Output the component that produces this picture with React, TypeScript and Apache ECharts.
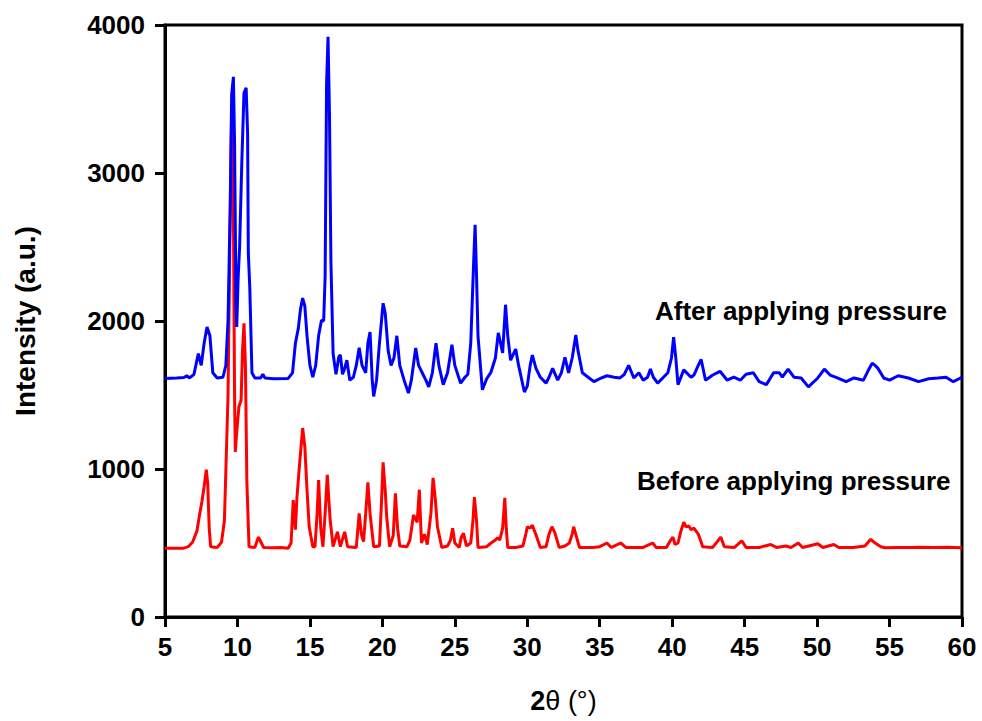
import React, { useEffect, useRef } from "react";
import * as echarts from "echarts";

const xTicks = { min: 5, max: 60, interval: 5 };
const yTicks = { min: 0, max: 4000, interval: 1000 };

const seriesNames = ["Before applying pressure", "After applying pressure"];

const afterPressure: [number, number][] = [
  [5.0, 1612], [5.8, 1615], [6.3, 1618], [6.5, 1630], [6.7, 1615], [7.0, 1640], [7.3, 1780], [7.5, 1700],
  [7.7, 1850], [7.9, 1960], [8.1, 1900], [8.3, 1650], [8.6, 1615], [9.0, 1620], [9.2, 1700], [9.35, 2005],
  [9.5, 2770], [9.6, 3530], [9.72, 3650], [9.8, 3200], [9.9, 2100], [9.95, 1960], [10.05, 2300], [10.15, 2500],
  [10.3, 3070], [10.45, 3540], [10.6, 3575], [10.7, 3270], [10.75, 2460], [10.85, 2230], [11.0, 1650], [11.2, 1615],
  [11.6, 1615], [11.75, 1640], [11.9, 1615], [12.5, 1610], [13.5, 1612], [13.8, 1650], [14.0, 1850], [14.2, 1950],
  [14.35, 2080], [14.5, 2155], [14.65, 2100], [14.8, 1900], [15.0, 1700], [15.2, 1620], [15.4, 1700], [15.6, 1900],
  [15.8, 2005], [15.95, 2000], [16.05, 2300], [16.15, 3600], [16.25, 3920], [16.35, 3400], [16.45, 2400], [16.6, 1780],
  [16.8, 1640], [17.0, 1760], [17.1, 1770], [17.25, 1640], [17.4, 1680], [17.55, 1735], [17.75, 1600], [18.0, 1620],
  [18.2, 1700], [18.4, 1820], [18.6, 1700], [18.85, 1650], [19.0, 1850], [19.15, 1925], [19.3, 1600], [19.4, 1490],
  [19.6, 1600], [19.8, 1850], [20.05, 2120], [20.2, 2050], [20.4, 1800], [20.6, 1700], [20.8, 1750], [21.0, 1900],
  [21.2, 1700], [21.5, 1600], [21.8, 1513], [22.0, 1600], [22.3, 1818], [22.5, 1700], [22.8, 1640], [23.0, 1600],
  [23.2, 1555], [23.45, 1650], [23.7, 1850], [23.9, 1700], [24.2, 1570], [24.5, 1650], [24.8, 1840], [25.0, 1700],
  [25.4, 1580], [25.7, 1620], [25.9, 1640], [26.1, 1850], [26.3, 2400], [26.4, 2650], [26.5, 2300], [26.6, 1900],
  [26.9, 1535], [27.2, 1610], [27.5, 1655], [27.8, 1750], [28.0, 1920], [28.3, 1785], [28.5, 2110], [28.65, 1900],
  [28.85, 1735], [29.2, 1810], [29.4, 1700], [29.8, 1520], [30.0, 1560], [30.2, 1700], [30.35, 1770], [30.6, 1680],
  [30.9, 1620], [31.3, 1580], [31.5, 1620], [31.75, 1680], [32.1, 1600], [32.35, 1650], [32.6, 1755], [32.85, 1650],
  [33.1, 1750], [33.35, 1905], [33.5, 1800], [33.8, 1650], [34.2, 1620], [34.6, 1590], [35.0, 1610], [35.5, 1630],
  [36.0, 1620], [36.4, 1615], [36.7, 1640], [37.0, 1700], [37.35, 1615], [37.7, 1650], [38.0, 1600], [38.3, 1620],
  [38.5, 1675], [38.7, 1620], [39.0, 1580], [39.4, 1620], [39.7, 1650], [39.95, 1750], [40.1, 1890], [40.25, 1750],
  [40.4, 1570], [40.8, 1670], [41.3, 1620], [41.5, 1635], [41.8, 1700], [42.0, 1740], [42.3, 1600], [42.8, 1635],
  [43.3, 1660], [43.8, 1600], [44.25, 1620], [44.7, 1600], [45.1, 1640], [45.6, 1650], [46.0, 1590], [46.5, 1570],
  [47.0, 1650], [47.4, 1650], [47.6, 1620], [48.0, 1675], [48.4, 1620], [48.9, 1615], [49.4, 1555], [50.05, 1615],
  [50.5, 1675], [50.9, 1635], [51.4, 1615], [52.0, 1590], [52.55, 1615], [53.2, 1600], [53.5, 1660], [53.8, 1715],
  [54.0, 1700], [54.2, 1680], [54.6, 1615], [55.0, 1600], [55.6, 1630], [56.3, 1615], [57.0, 1590], [57.7, 1610],
  [58.35, 1615], [58.9, 1620], [59.4, 1590], [60.0, 1620],
];

const beforePressure: [number, number][] = [
  [5, 465], [6.3, 465], [6.6, 475], [6.9, 505], [7.2, 580], [7.4, 700], [7.55, 780], [7.7, 880],
  [7.85, 995], [7.95, 900], [8.05, 600], [8.15, 475], [8.6, 470], [8.9, 505], [9.1, 650], [9.35, 1500],
  [9.5, 2700], [9.6, 3450], [9.7, 3050], [9.8, 1500], [9.85, 1115], [9.95, 1250], [10.1, 1420], [10.25, 1465],
  [10.35, 1800], [10.45, 1985], [10.55, 1700], [10.65, 910], [10.8, 475], [11.2, 470], [11.45, 540], [11.65, 500],
  [11.8, 470], [12.5, 468], [13.0, 470], [13.5, 465], [13.7, 500], [13.85, 790], [14.0, 590], [14.1, 800],
  [14.3, 1050], [14.5, 1277], [14.65, 1150], [14.8, 858], [14.95, 610], [15.2, 475], [15.35, 475], [15.5, 700],
  [15.6, 925], [15.75, 600], [15.9, 475], [16.05, 700], [16.2, 960], [16.3, 800], [16.4, 655], [16.6, 475],
  [16.9, 575], [17.1, 475], [17.4, 575], [17.6, 475], [18.2, 470], [18.4, 700], [18.55, 560], [18.7, 510],
  [18.85, 700], [19.0, 910], [19.15, 700], [19.4, 475], [19.8, 480], [19.95, 800], [20.05, 1045], [20.2, 850],
  [20.3, 675], [20.5, 475], [20.75, 550], [20.9, 835], [21.05, 600], [21.2, 480], [21.7, 475], [21.9, 520],
  [22.15, 690], [22.4, 640], [22.55, 860], [22.7, 500], [22.9, 560], [23.1, 490], [23.35, 700], [23.5, 940],
  [23.65, 800], [23.8, 610], [24.1, 470], [24.5, 480], [24.7, 520], [24.85, 600], [25.0, 500], [25.3, 470],
  [25.45, 540], [25.6, 565], [25.8, 480], [26.1, 500], [26.25, 650], [26.35, 810], [26.5, 650], [26.6, 470],
  [27.2, 475], [27.5, 500], [27.8, 520], [27.95, 535], [28.1, 520], [28.3, 600], [28.45, 805], [28.55, 600],
  [28.65, 470], [29.2, 470], [29.7, 480], [29.9, 560], [30.0, 610], [30.2, 600], [30.35, 620], [30.6, 555],
  [30.9, 470], [31.3, 475], [31.5, 560], [31.7, 610], [31.9, 570], [32.2, 470], [32.6, 480], [32.9, 500],
  [33.1, 560], [33.2, 610], [33.4, 540], [33.6, 470], [34.5, 470], [35.0, 475], [35.5, 500], [35.8, 470],
  [36.45, 500], [36.8, 470], [37.5, 470], [38.0, 470], [38.65, 500], [38.9, 470], [39.6, 470], [39.9, 520],
  [40.05, 540], [40.2, 490], [40.4, 500], [40.6, 580], [40.8, 640], [40.95, 610], [41.15, 615], [41.3, 590],
  [41.5, 600], [41.65, 580], [41.8, 560], [41.95, 520], [42.1, 475], [42.8, 470], [43.35, 540], [43.6, 475],
  [44.3, 470], [44.8, 515], [45.1, 470], [46.0, 470], [46.8, 490], [47.2, 470], [47.85, 480], [48.2, 470],
  [48.7, 500], [49.0, 470], [50.05, 495], [50.4, 470], [51.15, 490], [51.5, 470], [52.5, 470], [53.3, 480],
  [53.7, 525], [54.0, 500], [54.4, 475], [54.7, 468], [55.5, 470], [56.5, 470], [57.0, 472], [58.0, 470],
  [59.0, 472], [60, 468],
];

const FONT = 'Arial, "Liberation Sans", sans-serif';

export default function App() {
  const ref = useRef<HTMLDivElement>(null);
  useEffect(() => {
    if (!ref.current) return;
    const chart = echarts.init(ref.current, null, { renderer: "svg" });
    const axisLine = { show: true, onZero: false, lineStyle: { color: "#000", width: 3 } };
    const axisTick = { show: true, inside: false, length: 10, lineStyle: { color: "#000", width: 3 } };
    chart.setOption({
      animation: false,
      backgroundColor: "#fff",
      grid: {
        left: 165, right: 20, top: 25, bottom: 104,
        show: true, borderColor: "#000", borderWidth: 3, backgroundColor: "transparent",
      },
      xAxis: {
        type: "value",
        min: xTicks.min, max: xTicks.max, interval: xTicks.interval,
        axisLine, axisTick,
        splitLine: { show: false },
        axisLabel: { color: "#000", fontFamily: FONT, fontWeight: "bold", fontSize: 26, margin: 17 },
        name: "{b|2}{n|θ (°)}",
        nameLocation: "middle",
        nameGap: 70,
        nameTextStyle: {
          rich: {
            b: { fontFamily: FONT, fontWeight: "bold", fontSize: 27, color: "#000" },
            n: { fontFamily: FONT, fontWeight: "normal", fontSize: 27, color: "#000" },
          },
        },
      },
      yAxis: {
        type: "value",
        min: yTicks.min, max: yTicks.max, interval: yTicks.interval,
        axisLine, axisTick,
        splitLine: { show: false },
        axisLabel: {
          color: "#000", fontFamily: FONT, fontWeight: "bold", fontSize: 26, margin: 20,
          formatter: (v: number) => String(v),
        },
        name: "Intensity (a.u.)",
        nameLocation: "middle",
        nameGap: 126,
        nameRotate: 90,
        nameTextStyle: { color: "#000", fontFamily: FONT, fontWeight: "bold", fontSize: 28 },
      },
      series: [
        {
          name: seriesNames[0],
          type: "line",
          data: beforePressure,
          showSymbol: false,
          lineStyle: { color: "#ff0000", width: 3 },
          itemStyle: { color: "#ff0000" },
          z: 2,
        },
        {
          name: seriesNames[1],
          type: "line",
          data: afterPressure,
          showSymbol: false,
          lineStyle: { color: "#0000ff", width: 3 },
          itemStyle: { color: "#0000ff" },
          z: 3,
        },
      ],
      graphic: [
        {
          type: "text", x: 655, y: 311,
          style: { text: seriesNames[1], fill: "#000", font: `bold 26px ${FONT}`, verticalAlign: "middle" },
        },
        {
          type: "text", x: 637, y: 481,
          style: { text: seriesNames[0], fill: "#000", font: `bold 26px ${FONT}`, verticalAlign: "middle" },
        },
      ],
    });
    return () => chart.dispose();
  }, []);
  return <div ref={ref} style={{ width: 982, height: 721, position: "absolute", left: 0, top: 0 }} />;
}
